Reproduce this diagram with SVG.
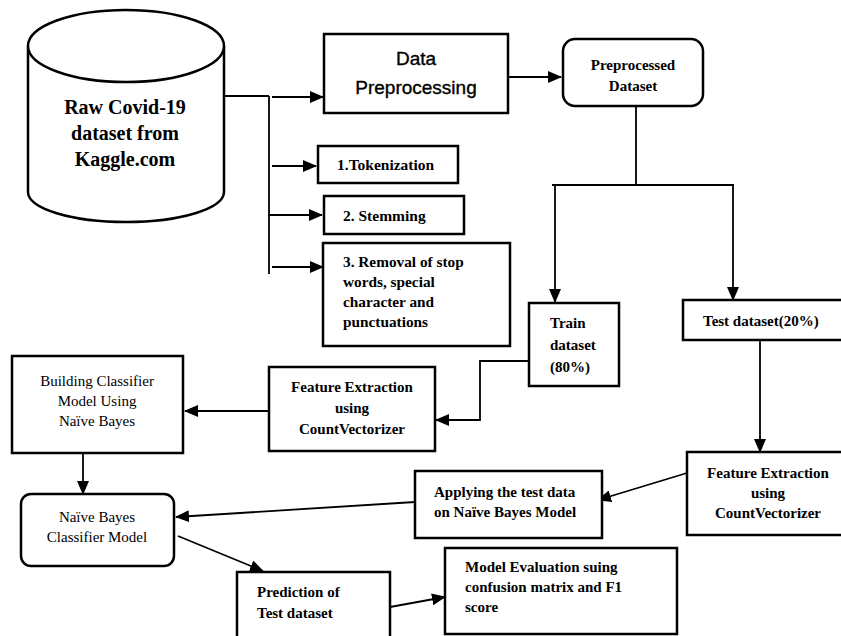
<svg xmlns="http://www.w3.org/2000/svg" width="841" height="636" viewBox="0 0 841 636">
<defs>
<marker id="ah" markerUnits="userSpaceOnUse" markerWidth="14" markerHeight="12" refX="13" refY="6" orient="auto">
<path d="M0,0 L14,6 L0,12 Z" fill="#000"/>
</marker>
<style>
.box{fill:#fff;stroke:#000;stroke-width:2.5}
.ln{fill:none;stroke:#000;stroke-width:1.8}
.ar{fill:none;stroke:#000;stroke-width:1.8;marker-end:url(#ah)}
.sb{font-family:"Liberation Serif","Times New Roman",serif;font-weight:bold;fill:#000}
.sr{font-family:"Liberation Serif","Times New Roman",serif;fill:#000}
.ss{font-family:"Liberation Sans",Arial,sans-serif;fill:#000;stroke:#000;stroke-width:0.35}
</style>
</defs>
<rect width="841" height="636" fill="#fff"/>
<g id="connectors">
<path class="ln" d="M224,96 H269 M269,96 V274"/>
<path class="ar" d="M272,97 H323"/>
<path class="ar" d="M272,166 H316"/>
<path class="ar" d="M268,215 H322"/>
<path class="ar" d="M272,267 H323"/>
<path class="ar" d="M508,77 H561"/>
<path class="ln" d="M636,106 V185 M552,185 H734"/>
<path class="ar" d="M555,185 V302"/>
<path class="ar" d="M733,185 V300"/>
<path class="ar" d="M760,340 V452"/>
<path class="ar" d="M529,361 H480 V420 H436"/>
<path class="ar" d="M269,411 H185"/>
<path class="ar" d="M83,453 V494"/>
<path class="ar" d="M687,473 L598,500"/>
<path class="ar" d="M415,502 L176,517"/>
<path class="ar" d="M178,536 L263,571"/>
<path class="ar" d="M390,607 L445,597"/>
</g>
<g id="raw">
<path class="box" d="M28,46 L28,192 A98,30 0 0 0 224,192 L224,46"/>
<ellipse class="box" cx="126" cy="46" rx="98" ry="36"/>
<text class="sb" font-size="20" text-anchor="middle"><tspan x="125" y="114">Raw Covid-19</tspan><tspan x="125" y="140">dataset from</tspan><tspan x="125" y="166">Kaggle.com</tspan></text>
</g>
<g id="dataprep">
<rect class="box" x="324" y="34" width="184" height="79"/>
<text class="ss" font-size="19" text-anchor="middle"><tspan x="416" y="65">Data</tspan><tspan x="416" y="94">Preprocessing</tspan></text>
</g>
<g id="preprocessed">
<rect class="box" x="563" y="39" width="140" height="67" rx="12"/>
<text class="sb" font-size="15" text-anchor="middle"><tspan x="633" y="70">Preprocessed</tspan><tspan x="633" y="91">Dataset</tspan></text>
</g>
<g id="tokenization">
<rect class="box" x="318" y="146" width="140" height="37"/>
<text class="sb" font-size="15.5" x="337" y="170">1.Tokenization</text>
</g>
<g id="stemming">
<rect class="box" x="324" y="196" width="140" height="38"/>
<text class="sb" font-size="15.5" x="343" y="221">2. Stemming</text>
</g>
<g id="removal">
<rect class="box" x="323" y="243" width="187" height="103"/>
<text class="sb" font-size="15.3"><tspan x="343" y="267">3. Removal of stop</tspan><tspan x="343" y="287">words, special</tspan><tspan x="343" y="307">character and</tspan><tspan x="343" y="327">punctuations</tspan></text>
</g>
<g id="train">
<rect class="box" x="529" y="303" width="90" height="83"/>
<text class="sb" font-size="15"><tspan x="550" y="328">Train</tspan><tspan x="550" y="350">dataset</tspan><tspan x="550" y="372">(80%)</tspan></text>
</g>
<g id="test">
<rect class="box" x="683" y="300" width="162" height="40"/>
<text class="sb" font-size="15" x="703" y="326">Test dataset(20%)</text>
</g>
<g id="fe-left">
<rect class="box" x="269" y="367" width="166" height="84"/>
<text class="sb" font-size="15" text-anchor="middle"><tspan x="352" y="392">Feature Extraction</tspan><tspan x="352" y="413">using</tspan><tspan x="352" y="434">CountVectorizer</tspan></text>
</g>
<g id="building">
<rect class="box" x="12" y="356" width="171" height="97"/>
<text class="sr" font-size="15" text-anchor="middle"><tspan x="97" y="386">Building Classifier</tspan><tspan x="97" y="406">Model Using</tspan><tspan x="97" y="426">Naïve Bayes</tspan></text>
</g>
<g id="nb-model">
<rect class="box" x="21" y="494" width="153" height="72" rx="10"/>
<text class="sr" font-size="15" text-anchor="middle"><tspan x="97" y="522">Naïve Bayes</tspan><tspan x="97" y="542">Classifier Model</tspan></text>
</g>
<g id="fe-right">
<rect class="box" x="687" y="452" width="160" height="83"/>
<text class="sb" font-size="15" text-anchor="middle"><tspan x="768" y="478">Feature Extraction</tspan><tspan x="768" y="498">using</tspan><tspan x="768" y="518">CountVectorizer</tspan></text>
</g>
<g id="applying">
<rect class="box" x="415" y="471" width="187" height="67"/>
<text class="sb" font-size="15"><tspan x="434" y="497">Applying the test data</tspan><tspan x="434" y="517">on Naïve Bayes Model</tspan></text>
</g>
<g id="prediction">
<rect class="box" x="237" y="572" width="153" height="72"/>
<text class="sb" font-size="15"><tspan x="257" y="597">Prediction of</tspan><tspan x="257" y="618">Test dataset</tspan></text>
</g>
<g id="evaluation">
<rect class="box" x="445" y="548" width="232" height="86"/>
<text class="sb" font-size="15"><tspan x="465" y="572">Model Evaluation suing</tspan><tspan x="465" y="592">confusion matrix and F1</tspan><tspan x="465" y="612">score</tspan></text>
</g>
</svg>
